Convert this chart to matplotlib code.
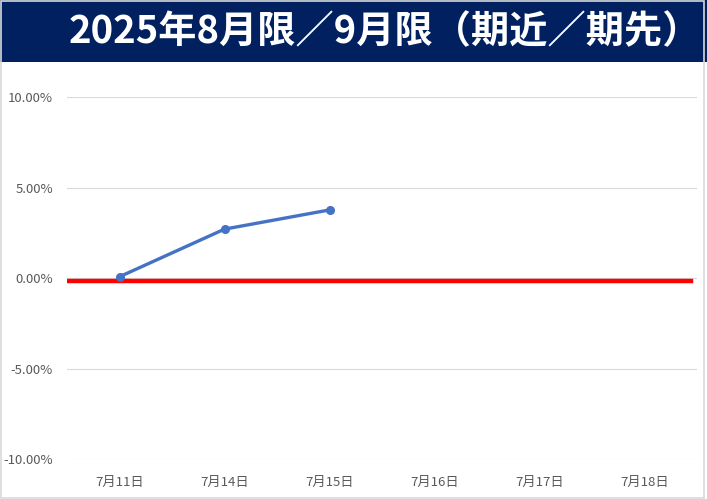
import matplotlib.pyplot as plt
from matplotlib.patches import Rectangle
from matplotlib.ticker import FuncFormatter

plt.rcParams['font.family'] = ['Noto Sans CJK JP', 'DejaVu Sans']

title = '2025年8月限／9月限（期近／期先）'
dates = ['7月11日', '7月14日', '7月15日', '7月16日', '7月17日', '7月18日']
spread = [0.0007, 0.027, 0.0376]  # only first three days have values
ref_level = -0.0014  # red reference line, sits just under zero
y_ticks = [-0.10, -0.05, 0.0, 0.05, 0.10]

fig = plt.figure(figsize=(7.07, 4.99), dpi=100)

# title banner
fig.patches.append(Rectangle((0.0, 1 - 62 / 499), 1.0, 62 / 499, transform=fig.transFigure,
                             facecolor='#002060', edgecolor='none', zorder=0))
fig.text(385 / 707, 1 - 32 / 499, title, color='white', fontsize=27.5, fontweight='bold',
         ha='center', va='center')
# outer frame
fig.patches.append(Rectangle((0.001, 0.002), 0.995, 0.995, transform=fig.transFigure,
                             facecolor='none', edgecolor='#D9D9D9', lw=1.2, zorder=5))

ax = fig.add_axes([67 / 707, 1 - 459 / 499, 630 / 707, 362 / 499])
x = list(range(len(dates)))

ax.set_xlim(-0.5, len(dates) - 0.5)
ax.set_ylim(-0.10, 0.10)
ax.set_yticks(y_ticks)
ax.yaxis.set_major_formatter(FuncFormatter(lambda v, p: f'{v * 100:.2f}%'))
ax.set_xticks(x)
ax.set_xticklabels(dates)
ax.grid(axis='y', color='#D9D9D9', lw=0.8)
ax.set_axisbelow(True)
for s in ax.spines.values():
    s.set_visible(False)
ax.tick_params(length=0, labelsize=9.5, colors='#595959')
ax.tick_params(axis='y', pad=10)
ax.tick_params(axis='x', pad=12)

ax.axhline(ref_level, xmin=0.0, xmax=624 / 630, color='#FF0000', lw=3.2, zorder=2)
ax.plot(x[:len(spread)], spread, color='#4472C4', lw=2.4, marker='o', ms=5.5, zorder=3)

fig.savefig('out.png', dpi=100)
